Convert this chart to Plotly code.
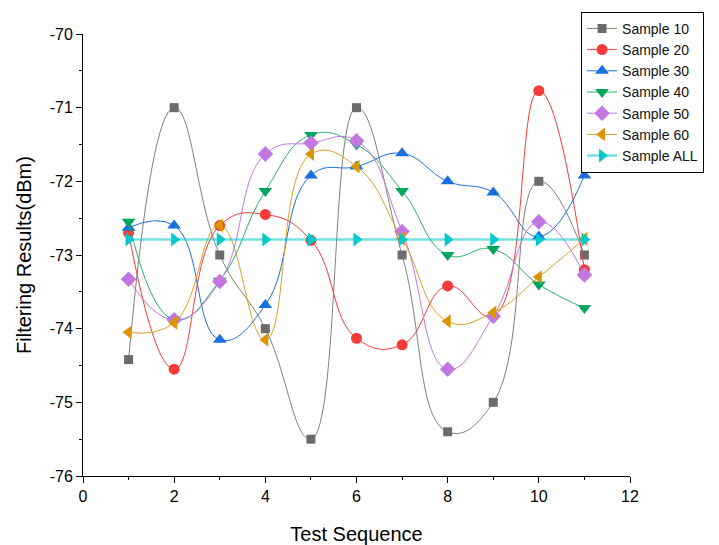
import plotly.graph_objects as go

x_seq = [1, 2, 3, 4, 5, 6, 7, 8, 9, 10, 11]
sample_10 = [-74.42, -71.0, -73.0, -74.0, -75.5, -71.0, -73.0, -75.4, -75.0, -72.0, -73.0]
sample_20 = [-72.7, -74.55, -72.6, -72.45, -72.8, -74.13, -74.22, -73.42, -73.83, -70.77, -73.2]
sample_30 = [-72.63, -72.6, -74.15, -73.68, -71.92, -71.8, -71.62, -72.0, -72.15, -72.75, -71.92]
sample_40 = [-72.55, -73.88, -73.35, -72.13, -71.37, -71.5, -72.13, -73.0, -72.92, -73.4, -73.72]
sample_50 = [-73.33, -73.88, -73.36, -71.63, -71.48, -71.45, -72.68, -74.55, -73.83, -72.55, -73.27]
sample_60 = [-74.05, -73.92, -72.6, -74.15, -71.63, -71.8, -72.78, -73.9, -73.78, -73.3, -72.78]
sample_all = [-72.79] * 11

series = [
    ("Sample 10", sample_10, "#6b6b6b", "#808080", "square", 9, 1),
    ("Sample 20", sample_20, "#f83a3a", "#f83a3a", "circle", 11, 1),
    ("Sample 30", sample_30, "#1a6fdf", "#1a6fdf", "triangle-up", 12, 1),
    ("Sample 40", sample_40, "#00a65e", "#2db070", "triangle-down", 12, 1),
    ("Sample 50", sample_50, "#c277e0", "#c277e0", "diamond", 12, 1),
    ("Sample 60", sample_60, "#db9500", "#dfa020", "triangle-left", 12, 1),
    ("Sample ALL", sample_all, "#00c8cc", "rgba(0,200,204,0.55)", "triangle-right", 12, 2.5),
]

fig = go.Figure()
for name, ys, mcol, lcol, sym, msize, lw in series:
    fig.add_trace(go.Scatter(
        x=x_seq, y=ys, name=name, mode="lines+markers",
        line=dict(color=lcol, width=lw, shape="spline", smoothing=1.3),
        marker=dict(symbol=sym, size=msize, color=mcol, line=dict(width=0)),
    ))

font_family = "Liberation Sans, Arial, sans-serif"
fig.update_layout(
    width=719, height=545,
    margin=dict(l=75, r=97, t=26, b=77, autoexpand=False),
    paper_bgcolor="white", plot_bgcolor="white",
    font=dict(family=font_family, size=16, color="black"),
    showlegend=True,
    legend=dict(
        xref="container", yref="container",
        x=0.797, y=0.993, xanchor="left", yanchor="top",
        bgcolor="white", bordercolor="black", borderwidth=1,
        font=dict(size=14, family=font_family, color="#111"),
        tracegroupgap=0,
    ),
    xaxis=dict(
        range=[0, 12], tickmode="array", tickvals=[0, 2, 4, 6, 8, 10, 12],
        showgrid=False, zeroline=False, showline=True, linecolor="black", linewidth=1,
        ticks="outside", ticklen=6, tickcolor="black", automargin=False,
        minor=dict(tickvals=[1, 3, 5, 7, 9, 11], ticks="outside", ticklen=3, tickcolor="black"),
        title=dict(text="Test Sequence", font=dict(size=20), standoff=22),
        tickfont=dict(size=16),
    ),
    yaxis=dict(
        range=[-76, -70], tickmode="array", tickvals=[-76, -75, -74, -73, -72, -71, -70],
        ticktext=["-76", "-75", "-74", "-73", "-72", "-71", "-70"],
        showgrid=False, zeroline=False, showline=True, linecolor="black", linewidth=1,
        ticks="outside", ticklen=6, tickcolor="black", automargin=False,
        minor=dict(tickvals=[-75.5, -74.5, -73.5, -72.5, -71.5, -70.5], ticks="outside", ticklen=3, tickcolor="black"),
        title=dict(text="Filtering Results(dBm)", font=dict(size=20), standoff=12),
        tickfont=dict(size=16),
    ),
)

fig.write_html("out.html")
